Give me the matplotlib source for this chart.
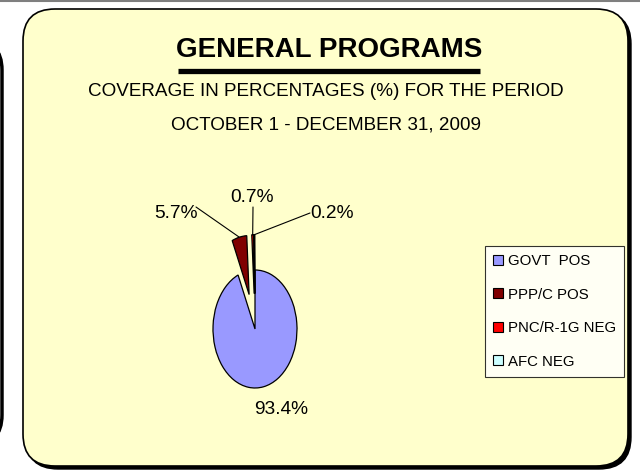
import numpy as np
import matplotlib
matplotlib.use("Agg")
import matplotlib.pyplot as plt
from matplotlib.patches import FancyBboxPatch

plt.rcParams['font.family'] = ['Liberation Sans', 'DejaVu Sans']

# ---- data ----
categories = ["GOVT  POS", "PPP/C POS", "PNC/R-1G NEG", "AFC NEG"]
values = [93.4, 5.7, 0.7, 0.2]
value_labels = ["93.4%", "5.7%", "0.7%", "0.2%"]
colors = ["#9999FF", "#800000", "#FF0000", "#CCFFFF"]
title = "GENERAL PROGRAMS"
subtitle1 = "COVERAGE IN PERCENTAGES (%) FOR THE PERIOD"
subtitle2 = "OCTOBER 1 - DECEMBER 31, 2009"

W, H = 640, 471
fig = plt.figure(figsize=(W / 100, H / 100), dpi=100)
fig.patch.set_facecolor("white")

# background axes in pixel coordinates
bg = fig.add_axes([0, 0, 1, 1])
bg.set_xlim(0, W)
bg.set_ylim(H, 0)
bg.axis("off")

# top gray line
bg.plot([0, W], [1, 1], color="#7f7f7f", lw=1.5)

# partial panel at left edge
bg.add_patch(FancyBboxPatch((-500, 40), 502, 405, boxstyle="round,pad=0,rounding_size=30",
                            facecolor="white", edgecolor="black", lw=2.5))

# main panel shadow and panel
bg.add_patch(FancyBboxPatch((26, 12), 605, 457, boxstyle="round,pad=0,rounding_size=32",
                            facecolor="black", edgecolor="black", lw=1))
bg.add_patch(FancyBboxPatch((23, 9), 605, 457, boxstyle="round,pad=0,rounding_size=32",
                            facecolor="#FFFFCC", edgecolor="black", lw=1.2))

# titles
bg.text(329, 50, title, ha="center", va="center", fontsize=20, fontweight="bold")
bg.plot([178, 480], [71, 71], color="black", lw=3.8, solid_capstyle="butt")
bg.text(326, 92, subtitle1, ha="center", va="center", fontsize=13.6)
bg.text(326, 125, subtitle2, ha="center", va="center", fontsize=13.6)

# pie axes: ellipse radii 42 px (x) and 59 px (y), centre at (255, 329)
cx, cy, rx, ry = 255, 329, 42, 59
ax = fig.add_axes([(cx - 2 * rx) / W, (H - cy - 2 * ry) / H, 4 * rx / W, 4 * ry / H])
explode = [0, 0.6, 0.6, 0.6]
wedges, _ = ax.pie(values, colors=colors, startangle=90, counterclock=False,
                   explode=explode, wedgeprops=dict(edgecolor="black", linewidth=0.9))
ax.set_aspect("auto")
ax.set_xlim(-2, 2)
ax.set_ylim(-2, 2)
ax.axis("off")

def outer_point(w):
    th = np.deg2rad((w.theta1 + w.theta2) / 2)
    c = w.center
    return (c[0] + w.r * np.cos(th), c[1] + w.r * np.sin(th))

# labels (text positions in pixel coords)
label_pos = {1: (176, 214), 2: (252, 197), 3: (332, 214)}
starts = {1: (196, 207), 2: (253, 207), 3: (310, 213)}
for i, (tx, ty) in label_pos.items():
    xy = outer_point(wedges[i])
    bg.text(tx, ty, value_labels[i], ha="center", va="center", fontsize=13.8)
    bg.annotate("", xy=xy, xycoords=ax.transData, xytext=starts[i], textcoords=bg.transData,
                arrowprops=dict(arrowstyle="-", color="black", lw=0.8,
                                shrinkA=0, shrinkB=0))
bg.text(281, 409, value_labels[0], ha="center", va="center", fontsize=13.8)

# legend
leg = fig.legend(wedges, categories, loc="upper left",
                 bbox_to_anchor=(485 / W, 1 - 246 / H), bbox_transform=fig.transFigure,
                 frameon=True, fancybox=False, edgecolor="black", facecolor="white",
                 fontsize=10.8, handlelength=0.65, handleheight=0.65, handletextpad=0.3,
                 labelspacing=1.3, borderpad=0.55, borderaxespad=0)
leg.get_frame().set_linewidth(0.8)
for h in leg.legend_handles:
    h.set_edgecolor("black")
    h.set_linewidth(0.8)

fig.savefig("out.png", dpi=100, facecolor="white")
